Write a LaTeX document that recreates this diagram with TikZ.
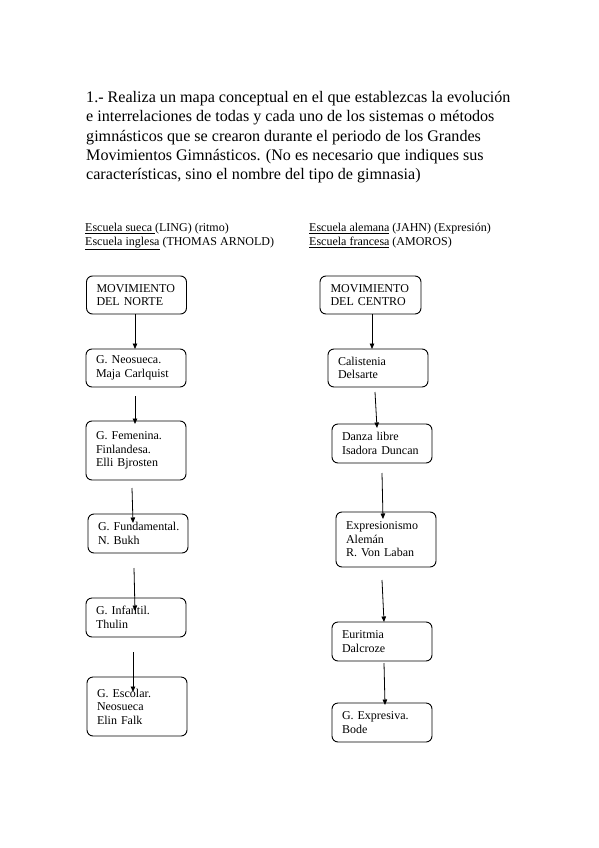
\documentclass[tikz,border=0pt]{standalone}
\usepackage{fontspec}
\setmainfont{Liberation Serif}
\usetikzlibrary{arrows.meta}
\begin{document}
\begin{tikzpicture}[x=1pt,y=-1pt,
  titletext/.style={anchor=base west, inner sep=0pt, font=\fontsize{16.1}{19.3}\selectfont},
  headtext/.style={anchor=base west, inner sep=0pt, font=\fontsize{12}{14}\selectfont},
  mapbox/.style={draw, rounded corners=6pt, line width=0.9pt, inner xsep=10pt, inner ysep=0pt,
    text width=80pt, align=left, minimum width=100pt, font=\fontsize{12}{13.6}\selectfont},
  flow/.style={line width=0.8pt, -{Triangle[length=5.5pt,width=4.5pt]}}]
\useasboundingbox (0,0) rectangle (599,848);
% title
\node[titletext] (t1) at (86,102.5) {1.- Realiza un mapa conceptual en el que establezcas la evolución};
\node[titletext] (t2) at (86,121.8) {e interrelaciones de todas y cada uno de los sistemas o métodos};
\node[titletext] (t3) at (86,141.1) {gimnásticos que se crearon durante el periodo de los Grandes};
\node[titletext] (t4) at (86,160.4) {Movimientos Gimnásticos. (No es necesario que indiques sus};
\node[titletext] (t5) at (86,179.7) {características, sino el nombre del tipo de gimnasia)};
% headers
\node[headtext] (h1) at (85,231.7) {\underline{Escuela sueca\ }(LING) (ritmo)};
\node[headtext] (h2) at (85,245.7) {\underline{Escuela inglesa} (THOMAS ARNOLD)};
\node[headtext] (h3) at (309,231.7) {\underline{Escuela alemana} (JAHN) (Expresión)};
\node[headtext] (h4) at (309,245.7) {\underline{Escuela francesa} (AMOROS)};
% left column
\node[mapbox, minimum height=38pt] (n1) at (136.5,295) {MOVIMIENTO\\DEL NORTE};
\node[mapbox, minimum height=38pt] (n2) at (136,368) {G. Neosueca.\\Maja Carlquist};
\node[mapbox, minimum height=59pt] (n3) at (136,450.5) {G. Femenina.\\Finlandesa.\\Elli Bjrosten};
\node[mapbox, minimum height=39pt] (n4) at (138,533.5) {\mbox{G. Fundamental.}\\N. Bukh};
\node[mapbox, minimum height=39pt] (n5) at (136,617.5) {G. Infantil.\\Thulin};
\node[mapbox, minimum height=59pt] (n6) at (137,706.5) {G. Escolar.\\Neosueca\\Elin Falk};
% right column
\node[mapbox, minimum height=38pt, minimum width=101pt] (m1) at (370.5,295) {MOVIMIENTO\\DEL CENTRO};
\node[mapbox, minimum height=38pt] (m2) at (378,368) {Calistenia\\Delsarte};
\node[mapbox, minimum height=39pt] (m3) at (382,443.5) {Danza libre\\Isadora Duncan};
\node[mapbox, minimum height=55pt] (m4) at (386,539.5) {\mbox{Expresionismo}\\Alemán\\R. Von Laban};
\node[mapbox, minimum height=39pt] (m5) at (382,641.5) {Euritmia\\Dalcroze};
\node[mapbox, minimum height=39pt] (m6) at (382,722.5) {G. Expresiva.\\Bode};
% connector end points
\coordinate (a1s) at (135,314);   \coordinate (a1e) at (135,349);
\coordinate (a2s) at (135,396);   \coordinate (a2e) at (135,424);
\coordinate (a3s) at (132,488);   \coordinate (a3e) at (133,523);
\coordinate (a4s) at (134,568);   \coordinate (a4e) at (135,611);
\coordinate (a5s) at (133,652);   \coordinate (a5e) at (133,692);
\coordinate (b1s) at (372,314);   \coordinate (b1e) at (372,349);
\coordinate (b2s) at (375,392);   \coordinate (b2e) at (377,428);
\coordinate (b3s) at (382,473);   \coordinate (b3e) at (383,519);
\coordinate (b4s) at (382,580);   \coordinate (b4e) at (384,622);
\coordinate (b5s) at (384,663);   \coordinate (b5e) at (385,705);
\draw[flow] (a1s) -- (a1e);
\draw[flow] (a2s) -- (a2e);
\draw[flow] (a3s) -- (a3e);
\draw[flow] (a4s) -- (a4e);
\draw[flow] (a5s) -- (a5e);
\draw[flow] (b1s) -- (b1e);
\draw[flow] (b2s) -- (b2e);
\draw[flow] (b3s) -- (b3e);
\draw[flow] (b4s) -- (b4e);
\draw[flow] (b5s) -- (b5e);
\end{tikzpicture}
\end{document}
